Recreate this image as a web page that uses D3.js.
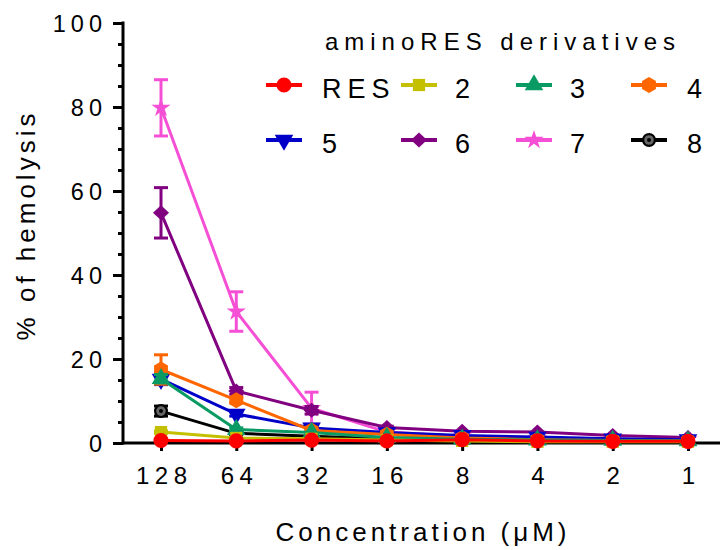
<!DOCTYPE html>
<html><head><meta charset="utf-8">
<script src="https://cdn.jsdelivr.net/npm/d3@7"></script>
<style>
html,body{margin:0;padding:0;background:#fff;}
svg{display:block;font-family:"Liberation Sans",Arial,sans-serif;}
</style></head>
<body><svg id="c" width="726" height="550"></svg>
<script>
const concentrations = ["128","64","32","16","8","4","2","1"];
const yTicks = [0,20,40,60,80,100];
const seriesNames = ["RES","2","3","4","5","6","7","8"];
const seriesColors = ["#ff0000","#c4c000","#0a9a64","#ff6600","#0000c8","#800080","#f550d5","#000000"];
const valsRES = [0.6,0.5,0.7,0.5,0.8,0.5,0.4,0.4];
const vals2   = [2.6,1.2,1.0,0.7,0.5,0.3,0.3,0.3];
const vals3   = [15.3,3.2,2.5,1.3,0.9,0.7,0.6,0.5];
const vals4   = [17.5,10.2,3.0,2.0,1.2,0.8,0.6,0.5];
const vals5   = [15.2,6.9,3.6,2.5,1.8,1.4,1.0,0.8];
const vals6   = [54.8,12.4,7.8,3.7,2.8,2.6,1.8,1.3];
const vals7   = [79.8,31.3,8.3,2.6,1.6,1.2,0.9,0.8];
const vals8   = [7.6,2.3,1.6,1.0,0.7,0.5,0.4,0.4];
const errRES = [0,0,0,0,0,0,0,0];
const err2   = [0.3,0,0,0,0,0,0,0];
const err3   = [1.0,0.4,0,0,0,0,0,0];
const err4   = [3.5,0.6,0.3,0,0,0,0,0];
const err5   = [1.3,0.5,0.3,0,0,0,0,0];
const err6   = [6.0,0.8,0.9,0.3,0,0,0,0];
const err7   = [6.7,4.7,3.8,0.4,0,0,0,0];
const err8   = [1.2,0.3,0,0,0,0,0,0];

const allVals = [valsRES,vals2,vals3,vals4,vals5,vals6,vals7,vals8];
const allErrs = [errRES,err2,err3,err4,err5,err6,err7,err8];

const svg = d3.select("#c");
const x = d3.scalePoint().domain(concentrations).range([161,688]);
const y = d3.scaleLinear().domain([0,100]).range([443,23]);
const axisLeftX = 123, axisRightX = 720;
const font = '"Liberation Sans",Arial,sans-serif';

function hexPath(r){const p=[];for(let i=0;i<6;i++){const a=Math.PI/6+i*Math.PI/3;p.push([r*Math.cos(a),r*Math.sin(a)]);}return "M"+p.map(d=>d.join(",")).join("L")+"Z";}
function diamondPath(w,h){return `M0,${-h}L${w},0L0,${h}L${-w},0Z`;}
const symPaths = [
  d3.symbol(d3.symbolCircle,180)(),
  d3.symbol(d3.symbolSquare,150)(),
  d3.symbol(d3.symbolTriangle,150)(),
  hexPath(8),
  d3.symbol(d3.symbolTriangle,150)(),
  diamondPath(8,7.5),
  d3.symbol(d3.symbolStar,115)(),
  d3.symbol(d3.symbolCircle,160)()
];
function drawMarker(g, i, cx, cy){
  const m = g.append("g").attr("transform",`translate(${cx},${cy})`);
  if(i===7){
    m.append("circle").attr("r",7).attr("fill","#000");
    m.append("circle").attr("r",4.8).attr("fill","#666");
    m.append("circle").attr("r",2).attr("fill","#000");
  } else {
    m.append("path").attr("d",symPaths[i]).attr("fill",seriesColors[i])
      .attr("transform", i===4 ? "rotate(180)" : null);
  }
}

const yAxisMinor = d3.axisLeft(y).tickValues(d3.range(0,101,5)).tickSize(5).tickSizeOuter(0).tickFormat("");
svg.append("g").attr("transform",`translate(${axisLeftX},0)`).call(yAxisMinor)
  .call(g=>{g.select(".domain").remove();g.selectAll("line").attr("stroke","#000").attr("stroke-width",3);});
const yAxis = d3.axisLeft(y).tickValues(yTicks).tickSize(10).tickSizeOuter(0).tickPadding(6);
svg.append("g").attr("transform",`translate(${axisLeftX},0)`).call(yAxis)
  .call(g=>{g.select(".domain").remove();g.selectAll("line").attr("stroke","#000").attr("stroke-width",3);
    g.selectAll("text").attr("font-family",font).attr("font-size",23.5).attr("letter-spacing","5px").attr("fill","#000").attr("dy","0.35em");});
svg.append("line").attr("x1",axisLeftX).attr("x2",axisLeftX).attr("y1",y(100)-1.5).attr("y2",y(0)+1.5).attr("stroke","#000").attr("stroke-width",3);

const xAxis = d3.axisBottom(x).tickSize(8).tickSizeOuter(0).tickPadding(16);
svg.append("g").attr("transform",`translate(0,${y(0)})`).call(xAxis)
  .call(g=>{g.select(".domain").remove();g.selectAll("line").attr("stroke","#000").attr("stroke-width",3);
    g.selectAll("text").attr("font-family",font).attr("font-size",24).attr("letter-spacing","5.5px").attr("fill","#000").attr("dx","2.75px");});
svg.append("line").attr("x1",axisLeftX).attr("x2",axisRightX).attr("y1",y(0)).attr("y2",y(0)).attr("stroke","#000").attr("stroke-width",3);

svg.append("text").attr("x",423).attr("y",541).attr("text-anchor","middle")
  .attr("font-family",font).attr("font-size",26).attr("letter-spacing","4px").text("Concentration (μM)");
svg.append("text").attr("transform","translate(35,225) rotate(-90)").attr("text-anchor","middle")
  .attr("font-family",font).attr("font-size",26).attr("letter-spacing","4px").text("% of hemolysis");

const line = d3.line().x((d,i)=>x(concentrations[i])).y(d=>y(d));
const order = [7,6,5,4,3,2,1,0];
order.forEach(si=>{
  const g = svg.append("g");
  const vals = allVals[si], errs = allErrs[si], col = si===7?"#000":seriesColors[si];
  g.append("path").attr("d",line(vals)).attr("fill","none").attr("stroke",col).attr("stroke-width",3);
  vals.forEach((v,i)=>{
    const e = errs[i]; if(!e) return;
    const cx = x(concentrations[i]);
    g.append("line").attr("x1",cx).attr("x2",cx).attr("y1",y(v+e)).attr("y2",y(v-e)).attr("stroke",col).attr("stroke-width",3);
    [v+e,v-e].forEach(t=>g.append("line").attr("x1",cx-7).attr("x2",cx+7).attr("y1",y(t)).attr("y2",y(t)).attr("stroke",col).attr("stroke-width",3));
  });
  vals.forEach((v,i)=>drawMarker(g,si,x(concentrations[i]),y(v)));
});

svg.append("text").attr("x",503).attr("y",50).attr("text-anchor","middle")
  .attr("font-family",font).attr("font-size",24).attr("letter-spacing","6px").text("aminoRES derivatives");
const legCols = [266,401,516,631];
const legLabelX = [322,455,570,687];
const legRows = [85,140];
seriesNames.forEach((n,i)=>{
  const c = i%4, r = Math.floor(i/4);
  const g = svg.append("g");
  const col = i===7?"#000":seriesColors[i];
  g.append("line").attr("x1",legCols[c]).attr("x2",legCols[c]+36).attr("y1",legRows[r]).attr("y2",legRows[r]).attr("stroke",col).attr("stroke-width",4);
  drawMarker(g,i,legCols[c]+18,legRows[r]);
  g.append("text").attr("x",legLabelX[c]).attr("y",legRows[r]+13).attr("font-family",font).attr("font-size",27).attr("letter-spacing","6px").text(n);
});
</script></body></html>
